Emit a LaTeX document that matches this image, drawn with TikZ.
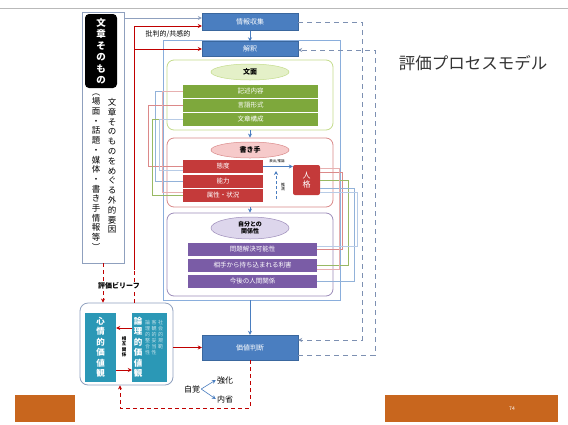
\documentclass[tikz,border=0pt]{standalone}
\usepackage{fontspec}
\setmainfont{Noto Sans CJK JP}
\usetikzlibrary{arrows.meta,calc,shapes.geometric}
\definecolor{cBlue}{HTML}{4A7EC0}
\definecolor{cBlueD}{HTML}{3A679E}
\definecolor{cFrame}{HTML}{8AAEDC}
\definecolor{cGreen}{HTML}{7EA83C}
\definecolor{cGreenL}{HTML}{E4F0C8}
\definecolor{cGreenB}{HTML}{C4DC8C}
\definecolor{cRed}{HTML}{C43A3A}
\definecolor{cRedL}{HTML}{F6CACA}
\definecolor{cRedB}{HTML}{DA8A8A}
\definecolor{cPurp}{HTML}{7A5CA6}
\definecolor{cPurpL}{HTML}{DDD6EC}
\definecolor{cPurpB}{HTML}{9D8DBA}
\definecolor{cTeal}{HTML}{2B98B6}
\definecolor{cGrayB}{HTML}{8FA0BE}
\definecolor{cDash}{HTML}{7D90B2}
\definecolor{cLine}{HTML}{C00000}
\definecolor{cOrange}{HTML}{C8661E}
\begin{document}
\begin{tikzpicture}[x=1pt,y=-1pt,>={Stealth[length=4pt,width=4pt]},
  bluebox/.style={fill=cBlue,draw=cBlueD,line width=0.4pt,text=white,inner sep=0pt,minimum width=96pt,font=\fontsize{7}{8}\selectfont},
  grp/.style={draw,rounded corners=7pt,line width=0.8pt,minimum width=166pt,inner sep=0pt},
  ell/.style={ellipse,draw,line width=0.5pt,minimum width=78pt,inner sep=0pt,font=\bfseries\fontsize{7}{8}\selectfont,align=center},
  bar/.style={text=white,inner sep=0pt,minimum height=12.5pt,font=\fontsize{6.5}{7}\selectfont},
  redl/.style={draw=cLine,line width=1pt},
  reddash/.style={draw=cLine,line width=1pt,dash pattern=on 4pt off 3pt},
  dashl/.style={draw=cDash,line width=1pt,dash pattern=on 5pt off 4pt},
  lnp/.style={draw=#1,line width=0.5pt},
  bluearr/.style={draw=cBlue,line width=0.8pt,->},
  vtext/.style={align=center,inner sep=0pt}]
\useasboundingbox (0,0) rectangle (568,424);
\fill[white] (0,0) rectangle (568,424);
\draw[gray!55,line width=0.7pt] (0,8) -- (568,8);
\fill[cOrange] (15,395) rectangle (558,422);
\fill[white] (75,392) rectangle (385,422);
\node[text=white,font=\fontsize{5}{6}\selectfont] (pnum) at (512,409) {74};
\node[font=\fontsize{16.5}{18}\selectfont,text=black!80] (title) at (473,63) {評価プロセスモデル};

% left box
\node[draw=cGrayB,line width=0.8pt,minimum width=42pt,minimum height=251pt,inner sep=0pt] (leftbox) at (103,137.5) {};
\node[fill=black,rounded corners=4pt,minimum width=32pt,minimum height=74pt,text=white,font=\bfseries\fontsize{9.5}{11.5}\selectfont,align=center,inner sep=0pt] (bunsho) at (101,51) {文\\章\\そ\\の\\も\\の};
\node[vtext,font=\fontsize{8.5}{9.8}\selectfont] (ext1) at (112,166) {文\\章\\そ\\の\\も\\の\\を\\め\\ぐ\\る\\外\\的\\要\\因};
\node[vtext,font=\fontsize{8.5}{9.7}\selectfont] (ext2) at (96,172) {︵\\場\\面\\・\\話\\題\\・\\媒\\体\\・\\書\\き\\手\\情\\報\\等\\︶};

% main frame
\node[draw=cFrame,line width=0.8pt,minimum width=177pt,minimum height=260pt,inner sep=0pt] (frame) at (251.5,170) {};
\node[bluebox,minimum height=17pt] (joho) at (250,22) {情報収集};
\node[bluebox,minimum height=15pt] (kai) at (250,49) {解釈};

% groups
\node[grp,draw=cGreenB,minimum height=70pt] (gmen) at (250,95) {};
\node[grp,draw=cRedB,minimum height=69pt] (gkaki) at (250,172.5) {};
\node[grp,draw=cPurpB,minimum height=83pt] (gjib) at (250,254.5) {};
\node[ell,fill=cGreenL,draw=cGreenB,minimum height=16pt] (emen) at (250,72) {文面};
\node[ell,fill=cRedL,draw=cRedB,minimum height=16pt] (ekaki) at (250,150) {書き手};
\node[ell,fill=cPurpL,draw=cPurpB,minimum height=22pt,font=\bfseries\fontsize{6}{7}\selectfont] (ejib) at (250,228) {自分との\\関係性};

% bars
\node[bar,fill=cGreen,minimum width=135pt] (g1) at (250.5,91.25) {記述内容};
\node[bar,fill=cGreen,minimum width=135pt] (g2) at (250.5,105.25) {言語形式};
\node[bar,fill=cGreen,minimum width=135pt] (g3) at (250.5,119.25) {文章構成};
\node[bar,fill=cRed,minimum width=80pt,minimum height=13pt] (r1) at (223,166.5) {態度};
\node[bar,fill=cRed,minimum width=80pt,minimum height=13pt] (r2) at (223,181) {能力};
\node[bar,fill=cRed,minimum width=80pt,minimum height=13pt] (r3) at (223,195.5) {属性・状況};
\node[fill=cRed,minimum width=27pt,minimum height=30pt,rounded corners=2pt,text=white,font=\fontsize{8}{9.5}\selectfont,align=center,inner sep=0pt] (jin) at (306.5,180) {人\\格};
\node[bar,fill=cPurp,minimum width=129pt,minimum height=13pt] (p1) at (252.5,249.5) {問題解決可能性};
\node[bar,fill=cPurp,minimum width=129pt,minimum height=13pt] (p2) at (252.5,265.5) {相手から持ち込まれる利害};
\node[bar,fill=cPurp,minimum width=129pt,minimum height=13pt] (p3) at (252.5,281.5) {今後の人間関係};

% value judgement
\node[bluebox,minimum height=25pt] (kachi) at (250,347.5) {価値判断};

% bottom-left value box
\node[draw=cGrayB,line width=0.8pt,rounded corners=8pt,minimum width=93pt,minimum height=82pt,fill=white] (valbox) at (126.5,344) {};
\node[fill=cTeal,minimum width=31pt,minimum height=69pt,text=white,font=\bfseries\fontsize{8.5}{10.5}\selectfont,align=center,inner sep=0pt] (shin) at (100.5,347.5) {心\\情\\的\\価\\値\\観};
\node[fill=cTeal,minimum width=35pt,minimum height=69pt,inner sep=0pt] (ronbox) at (149.5,347.5) {};
\node[vtext,text=white,font=\bfseries\fontsize{8.5}{10.5}\selectfont] (ron) at (138,347.5) {論\\理\\的\\価\\値\\観};
\node[vtext,text=white!70!cTeal,font=\fontsize{5}{6}\selectfont] (rs1) at (147.5,338) {論\\理\\的\\整\\合\\性};
\node[vtext,text=white!70!cTeal,font=\fontsize{5}{6}\selectfont] (rs2) at (154,338) {客\\観\\的\\妥\\当\\性};
\node[vtext,text=white!70!cTeal,font=\fontsize{5}{6}\selectfont] (rs3) at (160.5,335) {社\\会\\的\\規\\範};
\node[vtext,font=\bfseries\fontsize{4.5}{5.5}\selectfont] (sogo) at (124,347) {相\\互\\関\\係};
\draw[redl,->] ($(ronbox.west)+(0,-19.5)$) -- ($(shin.east)+(0,-19.5)$);
\draw[redl,->] ($(shin.east)+(0,22.5)$) -- ($(ronbox.west)+(0,22.5)$);
\draw[redl,->] (valbox.east |- kachi.west) -- (kachi.west);

% self-awareness
\node[font=\fontsize{8}{9}\selectfont,inner sep=1pt] (jik) at (192,389) {自覚};
\node[font=\fontsize{8}{9}\selectfont,inner sep=1pt] (kyo) at (225,380) {強化};
\node[font=\fontsize{8}{9}\selectfont,inner sep=1pt] (nai) at (225,399) {内省};
\draw[draw=cBlue,line width=0.6pt,->] (jik.east) -- (kyo.west);
\draw[draw=cBlue,line width=0.6pt,->] (jik.east) -- (nai.west);

% thin interconnection lines
\draw[lnp=cBlue!60] (g1.west) -- ++(-28,0) |- (r2.west);
\draw[lnp=cRed!60] (g2.west) -- ++(-35,0) |- (r1.west);
\draw[lnp=cGreen!80] (g3.west) -- ++(-31,0) |- (r3.west);
\draw[lnp=cBlue!40] (g3.west) -- ++(-24,0) |- ($(r1.west)+(0,4)$);
\draw[lnp=cRed!40] (g1.west) -- ++(-21,0) |- ($(r3.west)+(0,-3)$);
\draw[lnp=cRed!60] (p1.east) -- ++(25,0) |- ($(jin.east)+(0,-8)$);
\draw[lnp=cGreen!80] (p2.east) -- ++(31,0) |- (jin.east);
\draw[lnp=cBlue!60] (p3.east) -- ++(37,0) |- ($(jin.east)+(0,8)$);
\draw[lnp=cRed!40] ($(p2.east)+(0,4)$) -- ++(22,0) |- ($(jin.east)+(0,-12)$);
\draw[lnp=cBlue!40] ($(p1.east)+(0,-3)$) -- ++(40,0) |- ($(jin.east)+(0,12)$);

% arrows inside writer group
\draw[draw=cBlue,line width=0.6pt,->] (r1.east) -- (jin.west |- r1.east);
\node[font=\fontsize{3.5}{4}\selectfont,inner sep=0pt] (hyo) at (277,161.5) {表出/推論};
\coordinate (v1) at (276,199);
\coordinate (v2) at (276,171);
\draw[draw=cBlue,line width=0.6pt,densely dashed,->] (v1) -- (v2);
\node[vtext,font=\fontsize{4}{4.8}\selectfont] (sui) at (283,187) {推\\測};

% blue flow arrows
\draw[bluearr] (joho.south) -- (kai.north);
\draw[bluearr] (gmen.south) -- (gkaki.north);
\draw[bluearr] (gkaki.south) -- (gjib.north);
\draw[bluearr] (kachi.north |- frame.south) -- (kachi.north);

% dashed feedback lines
\coordinate (d1a) at (362,22);
\coordinate (d1b) at (362,340);
\draw[dashl,->] (joho.east) -- (d1a) -- (d1b) -- (kachi.east |- d1b);
\coordinate (d2a) at (375,355);
\coordinate (d2b) at (375,50);
\draw[dashl,->] (kachi.east |- d2a) -- (d2a) -- (d2b) -- (kai.east |- d2b);

% left box to info gathering
\coordinate (t1) at (124,18);
\draw[draw=cGrayB,line width=0.6pt,->] (t1) -- (joho.west |- t1);

% red belief lines
\coordinate (rc1) at (134,26);
\coordinate (rc2) at (134,49);
\coordinate (rc3) at (134,270);
\draw[redl,->] (rc3) -- (rc1) -- (joho.west |- rc1);
\draw[redl,->] (rc2) -- (kai.west |- rc2);
\draw[reddash] (valbox.north -| rc3) -- (rc3);
\draw[reddash,->] (leftbox.south) -- (valbox.north -| leftbox.south);
\node[font=\fontsize{7}{8}\selectfont,inner sep=0pt] (kan) at (168,34) {批判的/共感的};
\node[fill=white,font=\bfseries\fontsize{7}{8}\selectfont,inner sep=1pt] (belief) at (119,286) {評価ビリーフ};

% bottom feedback
\coordinate (b1) at (250,408);
\coordinate (b2) at (120,408);
\draw[reddash,->] (kachi.south) -- (b1) -- (b2) -- (valbox.south -| b2);
\end{tikzpicture}
\end{document}
